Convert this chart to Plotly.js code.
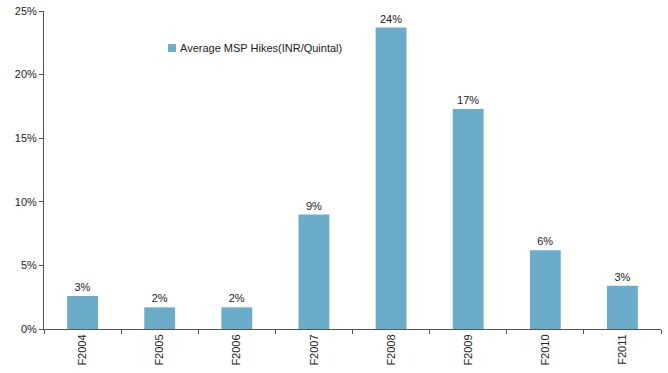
<!DOCTYPE html>
<html><head><meta charset="utf-8">
<script src="https://cdn.plot.ly/plotly-3.0.1.min.js"></script>
<style>html,body{margin:0;padding:0;background:#fff}</style>
</head><body>
<div id="chart" style="width:668px;height:373px"></div>
<script>
const categories = ["F2004","F2005","F2006","F2007","F2008","F2009","F2010","F2011"];
const mspHikes = [0.026, 0.017, 0.017, 0.090, 0.237, 0.173, 0.062, 0.034];
const seriesName = "Average MSP Hikes(INR/Quintal)";
const yTicks = [0, 0.05, 0.10, 0.15, 0.20, 0.25];
const barColor = "#6aacc9";

const trace = {
  type: "bar", x: categories, y: mspHikes, name: seriesName,
  marker: {color: barColor},
  texttemplate: "%{y:.0%}", textposition: "outside", cliponaxis: false,
  textfont: {family: "Liberation Sans, Arial, sans-serif", size: 11, color: "#222"},
  hoverinfo: "none"
};
const layout = {
  width: 668, height: 373,
  margin: {l: 44, r: 7, t: 11, b: 44},
  paper_bgcolor: "#fff", plot_bgcolor: "#fff",
  font: {family: "Liberation Sans, Arial, sans-serif", size: 11, color: "#222"},
  bargap: 0.6,
  showlegend: false,
  shapes: [{type: "rect", xref: "paper", yref: "paper", x0: 0.201, x1: 0.214, y0: 0.871, y1: 0.896,
            fillcolor: barColor, line: {width: 0}}],
  annotations: [{text: seriesName, xref: "paper", yref: "paper", x: 0.217, y: 0.884,
                 xanchor: "left", yanchor: "middle", showarrow: false,
                 font: {size: 11, color: "#222"}}],
  xaxis: {type: "category", showline: true, linecolor: "#555", linewidth: 1,
          ticks: "outside", tickson: "boundaries", ticklen: 4, tickcolor: "#555",
          tickangle: -90, showgrid: false, zeroline: false},
  yaxis: {range: [0, 0.25], tickvals: yTicks, tickformat: ".0%", showline: true,
          linecolor: "#555", linewidth: 1, ticks: "outside", ticklen: 4, tickcolor: "#555",
          showgrid: false, zeroline: false},
};
Plotly.newPlot("chart", [trace], layout, {displayModeBar: false, staticPlot: true});
</script>
</body></html>
